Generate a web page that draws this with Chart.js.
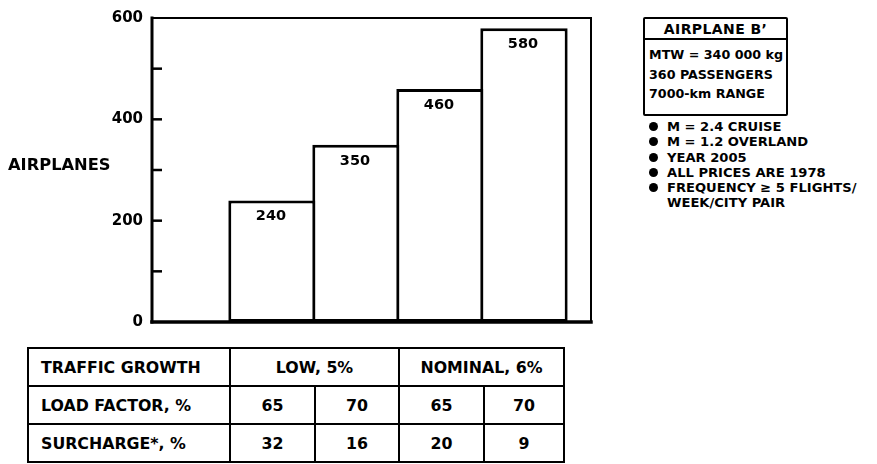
<!DOCTYPE html>
<html>
<head>
<meta charset="utf-8">
<script src="https://cdn.jsdelivr.net/npm/chart.js@4/dist/chart.umd.min.js"></script>
<style>
  html, body { margin: 0; padding: 0; background: #fff; }
  body { width: 877px; height: 464px; position: relative; overflow: hidden;
         font-family: "DejaVu Sans", sans-serif; font-weight: bold; color: #000; }
  #chartWrap { position: absolute; left: 0; top: 0; width: 600px; height: 340px; }
  #ylab { position: absolute; left: 8px; top: 155px; font-size: 16.3px; line-height: 20px; }
  #spec { position: absolute; left: 643px; top: 17px; width: 141px; height: 95px;
          border: 2px solid #000; border-radius: 2px; }
  #spec .hd { height: 19px; border-bottom: 2px solid #000; text-align: center;
              font-size: 14px; line-height: 20px; letter-spacing: 0.4px; }
  #spec .bd { padding: 5px 0 0 4px; font-size: 12.7px; line-height: 19.5px; white-space: nowrap; }
  #notes { position: absolute; left: 648px; top: 119px; font-size: 13.1px; line-height: 15.3px; white-space: nowrap; }
  #notes div { position: relative; padding-left: 19px; }
  #notes div.b::before { content: ""; position: absolute; left: 1px; top: 3px; width: 9px; height: 9px;
                         border-radius: 50%; background: #000; }
  #tbl { position: absolute; left: 27px; top: 347px; border-collapse: collapse; font-size: 15.8px; }
  #tbl td { border: 2px solid #000; padding: 0; height: 36px; text-align: center; vertical-align: middle; }
  #tbl td.first { text-align: left; padding-left: 12px; }
</style>
</head>
<body>
<div id="chartWrap"><canvas id="c"></canvas></div>
<div id="ylab">AIRPLANES</div>
<div id="spec"></div>
<div id="notes"></div>
<table id="tbl"></table>
<script>
// ---- data ----
const scenarios = ['LOW 5% / LF 65%', 'LOW 5% / LF 70%', 'NOMINAL 6% / LF 65%', 'NOMINAL 6% / LF 70%'];
const airplanes = [240, 350, 460, 580];
const yLabeledTicks = [0, 200, 400, 600];
const yMinorTicks = [100, 300, 500];
const rowLabels = ['TRAFFIC GROWTH', 'LOAD FACTOR, %', 'SURCHARGE*, %'];
const growthGroups = ['LOW, 5%', 'NOMINAL, 6%'];
const loadFactor = [65, 70, 65, 70];
const surcharge = [32, 16, 20, 9];
const specTitle = "AIRPLANE B\u2019";
const specLines = ['MTW = 340 000 kg', '360 PASSENGERS', '7000-km RANGE'];
const notes = ['M = 2.4 CRUISE', 'M = 1.2 OVERLAND', 'YEAR 2005', 'ALL PRICES ARE 1978', 'FREQUENCY \u2265 5 FLIGHTS/'];
const notesCont = 'WEEK/CITY PAIR';

// ---- side texts ----
const spec = document.getElementById('spec');
spec.innerHTML = '<div class="hd"></div><div class="bd"></div>';
spec.querySelector('.hd').textContent = specTitle;
specLines.forEach(t => { const d = document.createElement('div'); d.textContent = t; spec.querySelector('.bd').appendChild(d); });
const notesEl = document.getElementById('notes');
notes.forEach(t => { const d = document.createElement('div'); d.className = 'b'; d.textContent = t; notesEl.appendChild(d); });
{ const d = document.createElement('div'); d.textContent = notesCont; notesEl.appendChild(d); }

// ---- table ----
const colW = [202, 85, 84, 85, 80];
const tbl = document.getElementById('tbl');
function cell(tr, text, span, cls) {
  const td = document.createElement('td'); td.textContent = text;
  if (span) td.colSpan = span;
  if (cls) td.className = cls;
  tr.appendChild(td);
}
{
  const cg = document.createElement('colgroup');
  colW.forEach(w => { const c = document.createElement('col'); c.style.width = w + 'px'; cg.appendChild(c); });
  tbl.appendChild(cg);
  tbl.style.tableLayout = 'fixed';
  tbl.style.width = colW.reduce((a, b) => a + b, 0) + 'px';
}
{
  const tr = document.createElement('tr');
  cell(tr, rowLabels[0], 0, 'first');
  cell(tr, growthGroups[0], 2);
  cell(tr, growthGroups[1], 2);
  tbl.appendChild(tr);
}
[[rowLabels[1], loadFactor], [rowLabels[2], surcharge]].forEach(([lab, vals]) => {
  const tr = document.createElement('tr');
  cell(tr, lab, 0, 'first');
  vals.forEach(v => cell(tr, String(v)));
  tbl.appendChild(tr);
});

// ---- chart ----
const FONT = '"DejaVu Sans", sans-serif';
const framePlugin = {
  id: 'frame',
  afterDatasetsDraw(chart) {
    const { ctx } = chart;
    ctx.save();
    ctx.fillStyle = '#000';
    ctx.font = 'bold 14.5px ' + FONT;
    ctx.textAlign = 'center';
    ctx.textBaseline = 'top';
    chart.getDatasetMeta(0).data.forEach((bar, i) => {
      ctx.fillText(String(airplanes[i]), bar.x - 1, bar.y + 9);
    });
    ctx.restore();
  },
  afterDraw(chart) {
    const { ctx, chartArea: a, scales: { y } } = chart;
    ctx.save();
    ctx.strokeStyle = '#000';
    ctx.lineCap = 'square';
    ctx.lineWidth = 2;
    ctx.beginPath();
    ctx.moveTo(a.left, a.top); ctx.lineTo(a.right, a.top); ctx.lineTo(a.right, a.bottom);
    ctx.stroke();
    ctx.lineWidth = 3;
    ctx.beginPath(); ctx.moveTo(a.left, a.top); ctx.lineTo(a.left, a.bottom); ctx.stroke();
    ctx.lineWidth = 3.5;
    ctx.beginPath(); ctx.moveTo(a.left, a.bottom); ctx.lineTo(a.right, a.bottom); ctx.stroke();
    ctx.lineWidth = 2.5;
    ctx.lineCap = 'butt';
    yMinorTicks.concat(yLabeledTicks.filter(v => v !== y.min && v !== y.max)).forEach(v => {
      const py = y.getPixelForValue(v);
      ctx.beginPath(); ctx.moveTo(a.left, py); ctx.lineTo(a.left + 10, py); ctx.stroke();
    });
    ctx.restore();
  }
};

new Chart(document.getElementById('c'), {
  type: 'bar',
  data: {
    datasets: [{
      label: 'AIRPLANES',
      data: airplanes.map((v, i) => ({ x: i, y: v, s: scenarios[i] })),
      backgroundColor: '#fff',
      borderColor: '#000',
      borderWidth: 3,
      borderSkipped: false
    }]
  },
  options: {
    responsive: true,
    maintainAspectRatio: false,
    animation: false,
    events: [],
    datasets: { bar: { barPercentage: 1.04, categoryPercentage: 1 } },
    layout: { padding: { left: 0, top: 18, right: 9, bottom: 16 } },
    plugins: { legend: { display: false }, tooltip: { enabled: false } },
    scales: {
      x: {
        type: 'linear',
        display: false,
        offset: false,
        min: -1.4286,
        max: 3.798,
        afterBuildTicks(scale) { scale.ticks = airplanes.map((_, i) => ({ value: i })); }
      },
      y: {
        min: 0,
        max: 600,
        grid: { display: false, drawTicks: false },
        border: { display: false },
        afterFit(scale) { scale.width = 152; },
        ticks: {
          stepSize: 100,
          padding: 9,
          color: '#000',
          font: { family: FONT, weight: 'bold', size: 15 },
          callback: v => (yLabeledTicks.includes(v) ? String(v) : '')
        }
      }
    }
  },
  plugins: [framePlugin]
});
</script>
</body>
</html>
